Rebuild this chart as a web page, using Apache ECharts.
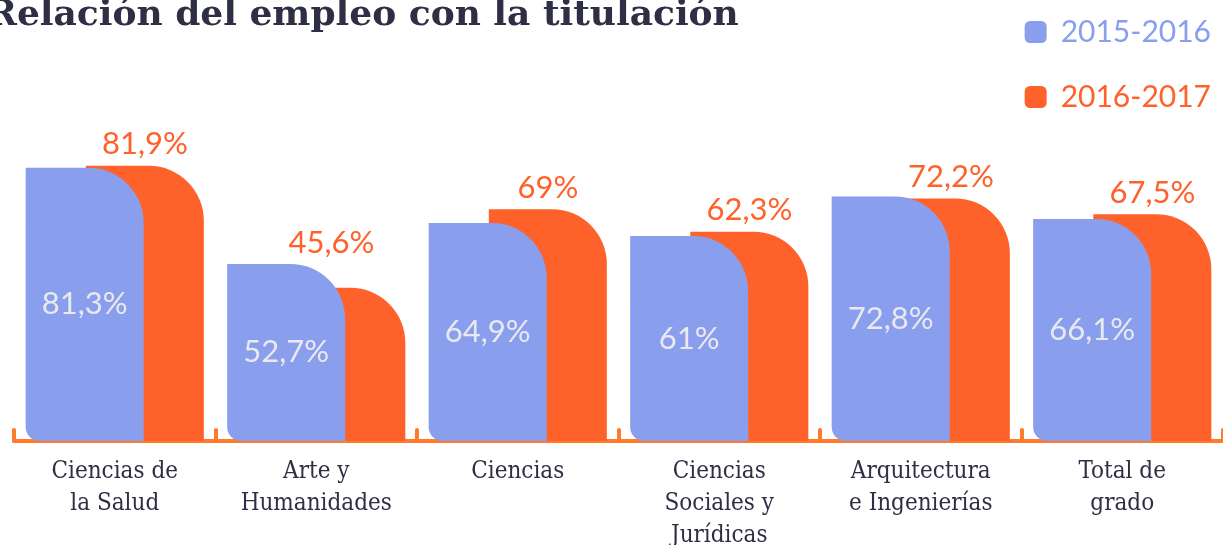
<!DOCTYPE html>
<html>
<head>
<meta charset="utf-8">
<script src="https://cdn.jsdelivr.net/npm/echarts@6/dist/echarts.min.js"></script>
<style>
  html, body { margin: 0; padding: 0; background: #ffffff; }
  #chart { width: 1223px; height: 545px; }
</style>
</head>
<body>
<div id="chart"></div>
<script>
const titleText = 'Relación del empleo con la titulación';
const categories = ['Ciencias de\nla Salud', 'Arte y\nHumanidades', 'Ciencias', 'Ciencias\nSociales y\nJurídicas', 'Arquitectura\ne Ingenierías', 'Total de\ngrado'];
const seriesNames = ['2015-2016', '2016-2017'];
const values2015 = [81.3, 52.7, 64.9, 61, 72.8, 66.1];
const values2016 = [81.9, 45.6, 69, 62.3, 72.2, 67.5];

const BLUE = '#899eec';
const ORANGE = '#ff612a';
const DARK = '#2e2f44';
const fmt = p => String(p.value).replace('.', ',') + '%';

// style override: the orange label is lifted above the much taller blue bar where it would collide
const orangeData = values2016.map((v, i) =>
  values2015[i] - v > 3 ? { value: v, label: { offset: [-15, -23] } } : v
);

const chart = echarts.init(document.getElementById('chart'), null, { renderer: 'canvas' });
chart.setOption({
  animation: false,
  backgroundColor: '#ffffff',
  title: {
    text: titleText,
    left: -18, top: -7,
    textStyle: { fontFamily: 'DejaVu Serif', fontWeight: 'bold', fontSize: 36, color: DARK }
  },
  legend: {
    orient: 'vertical',
    right: 7, top: 12,
    itemWidth: 22, itemHeight: 22, itemGap: 35,
    icon: 'roundRect',
    data: [
      { name: seriesNames[0], textStyle: { color: BLUE } },
      { name: seriesNames[1], textStyle: { color: ORANGE } }
    ],
    textStyle: { fontFamily: 'Lato', fontSize: 30, padding: [0, 0, 0, 9] }
  },
  grid: { left: 14, right: 0, top: 105, bottom: 104, containLabel: false, outerBoundsMode: 'none' },
  xAxis: {
    type: 'category',
    data: categories,
    axisLine: { show: true, lineStyle: { color: '#ff7a2a', width: 4, cap: 'round' } },
    axisTick: { show: true, inside: true, length: 11, lineStyle: { color: '#ff7a2a', width: 4, cap: 'round' } },
    axisLabel: { interval: 0, margin: 15, fontFamily: '"DejaVu Serif Condensed", "DejaVu Serif"', fontSize: 24, lineHeight: 32, color: DARK }
  },
  yAxis: { type: 'value', min: 0, max: 100, show: false, splitLine: { show: false } },
  series: [
    {
      name: seriesNames[0], type: 'bar', data: values2015, z: 3,
      barWidth: 118, barGap: '-49%',
      itemStyle: { color: BLUE, borderRadius: [0, 55, 0, 14] },
      label: { show: true, position: 'inside', formatter: fmt, fontFamily: 'Lato', fontSize: 31, color: '#e9e9f0' }
    },
    {
      name: seriesNames[1], type: 'bar', data: orangeData, z: 2,
      barWidth: 118,
      itemStyle: { color: ORANGE, borderRadius: [0, 55, 0, 0] },
      label: { show: true, position: 'top', distance: 6, formatter: fmt, fontFamily: 'Lato', fontSize: 31, color: ORANGE }
    }
  ]
});
</script>
</body>
</html>
